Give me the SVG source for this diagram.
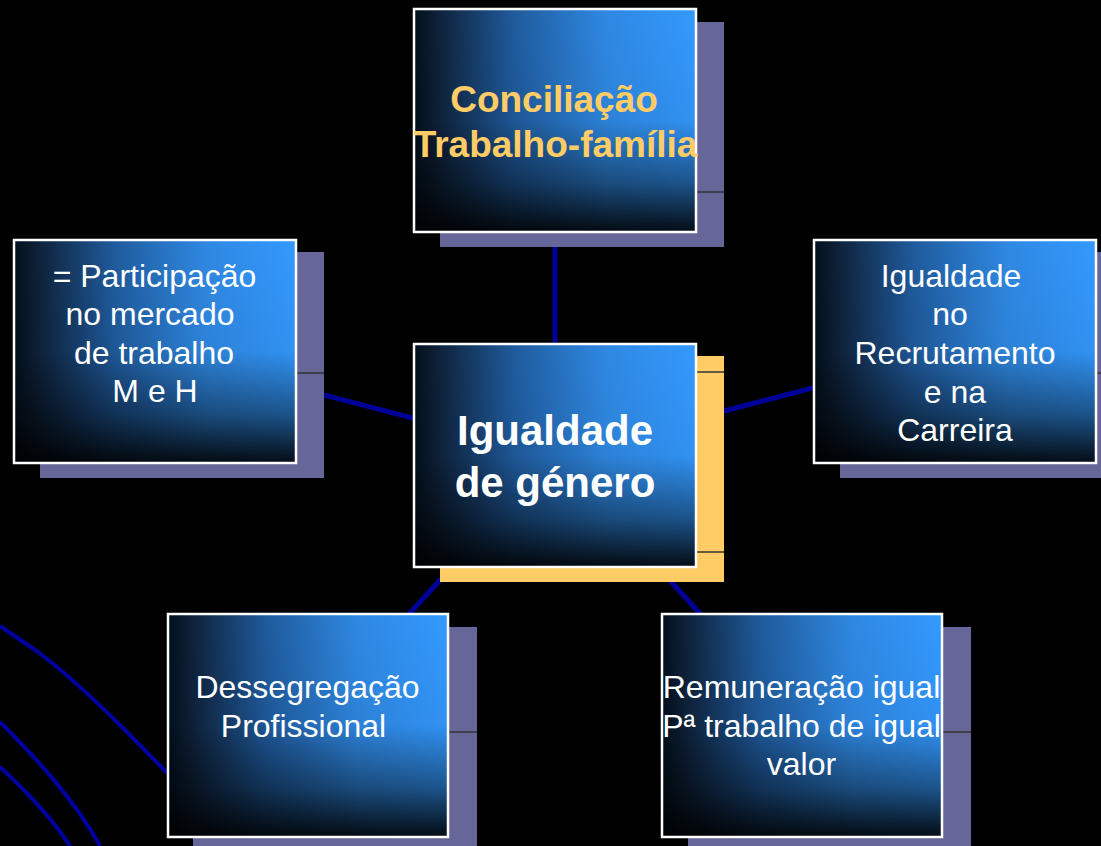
<svg xmlns="http://www.w3.org/2000/svg" width="1101" height="846" viewBox="0 0 1101 846">
<defs>
<linearGradient id="gh" x1="0" y1="0" x2="1" y2="0">
<stop offset="0" stop-color="#00101c"/>
<stop offset="0.07" stop-color="#0d1e34"/>
<stop offset="0.35" stop-color="#1f5a9c"/>
<stop offset="0.68" stop-color="#2f88e2"/>
<stop offset="1" stop-color="#3399ff"/>
</linearGradient>
<linearGradient id="gv" x1="0" y1="0" x2="0" y2="1">
<stop offset="0" stop-color="#000" stop-opacity="0"/>
<stop offset="0.5" stop-color="#000" stop-opacity="0.05"/>
<stop offset="0.78" stop-color="#000" stop-opacity="0.45"/>
<stop offset="1" stop-color="#000" stop-opacity="0.92"/>
</linearGradient>
<style>
.sh{fill:#666699}
.gold{fill:#FFCC66}
.sl{stroke:#333333;stroke-width:1.5}
.bg{fill:url(#gh)}
.ov{fill:url(#gv)}
.bd{fill:none;stroke:#ffffff;stroke-width:2.5}
.con{stroke:#000099;stroke-width:5;fill:none}
.arc{stroke:#0000a0;stroke-width:4;fill:none}
.t{font-family:"Liberation Sans",Arial,sans-serif;font-size:32px;fill:#ffffff;text-anchor:middle}
.tb{font-family:"Liberation Sans",Arial,sans-serif;font-weight:bold;text-anchor:middle}
</style>
</defs>
<rect width="1101" height="846" fill="#000"/>
<g id="decor">
<path class="arc" d="M0,626 L38,652 C70,676 100,705 125,730 L180,786"/>
<path class="arc" d="M0,722 C35,757 75,800 100,846"/>
<path class="arc" d="M0,767 C25,790 50,815 70,846"/>
</g>
<g id="connectors">
<line class="con" x1="555" y1="232" x2="555" y2="345"/>
<line class="con" x1="155" y1="351" x2="555" y2="455"/>
<line class="con" x1="955" y1="351" x2="555" y2="455"/>
<line class="con" x1="555" y1="455" x2="307" y2="725"/>
<line class="con" x1="555" y1="455" x2="802" y2="725"/>
</g>
<g id="node-top">
<rect class="sh" x="440" y="22" width="284" height="225"/>
<line class="sl" x1="696" y1="192" x2="724" y2="192"/>
<rect class="bg" x="414" y="9" width="282" height="223"/>
<rect class="ov" x="414" y="9" width="282" height="223"/>
<rect class="bd" x="414" y="9" width="282" height="223"/>
<text class="tb" x="554" y="112" font-size="37" fill="#FFCC66">Conciliação</text>
<text class="tb" x="555.5" y="157" font-size="37" fill="#FFCC66">Trabalho-família</text>
</g>
<g id="node-left">
<rect class="sh" x="40" y="252" width="284" height="226"/>
<line class="sl" x1="296" y1="373" x2="324" y2="373"/>
<rect class="bg" x="14" y="240" width="282" height="223"/>
<rect class="ov" x="14" y="240" width="282" height="223"/>
<rect class="bd" x="14" y="240" width="282" height="223"/>
<text class="t" x="154.5" y="287">= Participação</text>
<text class="t" x="150" y="325">no mercado</text>
<text class="t" x="154" y="364">de trabalho</text>
<text class="t" x="155" y="402">M e H</text>
</g>
<g id="node-right">
<rect class="sh" x="840" y="252" width="284" height="226"/>
<line class="sl" x1="1096" y1="373" x2="1101" y2="373"/>
<rect class="bg" x="814" y="240" width="282" height="223"/>
<rect class="ov" x="814" y="240" width="282" height="223"/>
<rect class="bd" x="814" y="240" width="282" height="223"/>
<text class="t" x="951" y="287">Igualdade</text>
<text class="t" x="950" y="325">no</text>
<text class="t" x="955" y="364">Recrutamento</text>
<text class="t" x="955" y="403">e na</text>
<text class="t" x="955" y="441">Carreira</text>
</g>
<g id="node-center">
<rect class="gold" x="440" y="356" width="284" height="226"/>
<line class="sl" x1="696" y1="372" x2="724" y2="372"/>
<line class="sl" x1="696" y1="552" x2="724" y2="552"/>
<rect class="bg" x="414" y="344" width="282" height="223"/>
<rect class="ov" x="414" y="344" width="282" height="223"/>
<rect class="bd" x="414" y="344" width="282" height="223"/>
<text class="tb" x="555" y="445" font-size="42" fill="#ffffff">Igualdade</text>
<text class="tb" x="555" y="497" font-size="42" fill="#ffffff">de género</text>
</g>
<g id="node-bottom-left">
<rect class="sh" x="193" y="627" width="284" height="226"/>
<line class="sl" x1="448" y1="732" x2="477" y2="732"/>
<rect class="bg" x="168" y="614" width="280" height="223"/>
<rect class="ov" x="168" y="614" width="280" height="223"/>
<rect class="bd" x="168" y="614" width="280" height="223"/>
<text class="t" x="307.5" y="698">Dessegregação</text>
<text class="t" x="303.5" y="737">Profissional</text>
</g>
<g id="node-bottom-right">
<rect class="sh" x="688" y="627" width="283" height="226"/>
<line class="sl" x1="942" y1="732" x2="971" y2="732"/>
<rect class="bg" x="662" y="614" width="280" height="223"/>
<rect class="ov" x="662" y="614" width="280" height="223"/>
<rect class="bd" x="662" y="614" width="280" height="223"/>
<text class="t" x="801.5" y="698">Remuneração igual</text>
<text class="t" x="801.5" y="737">Pª trabalho de igual</text>
<text class="t" x="801.5" y="775">valor</text>
</g>
</svg>
